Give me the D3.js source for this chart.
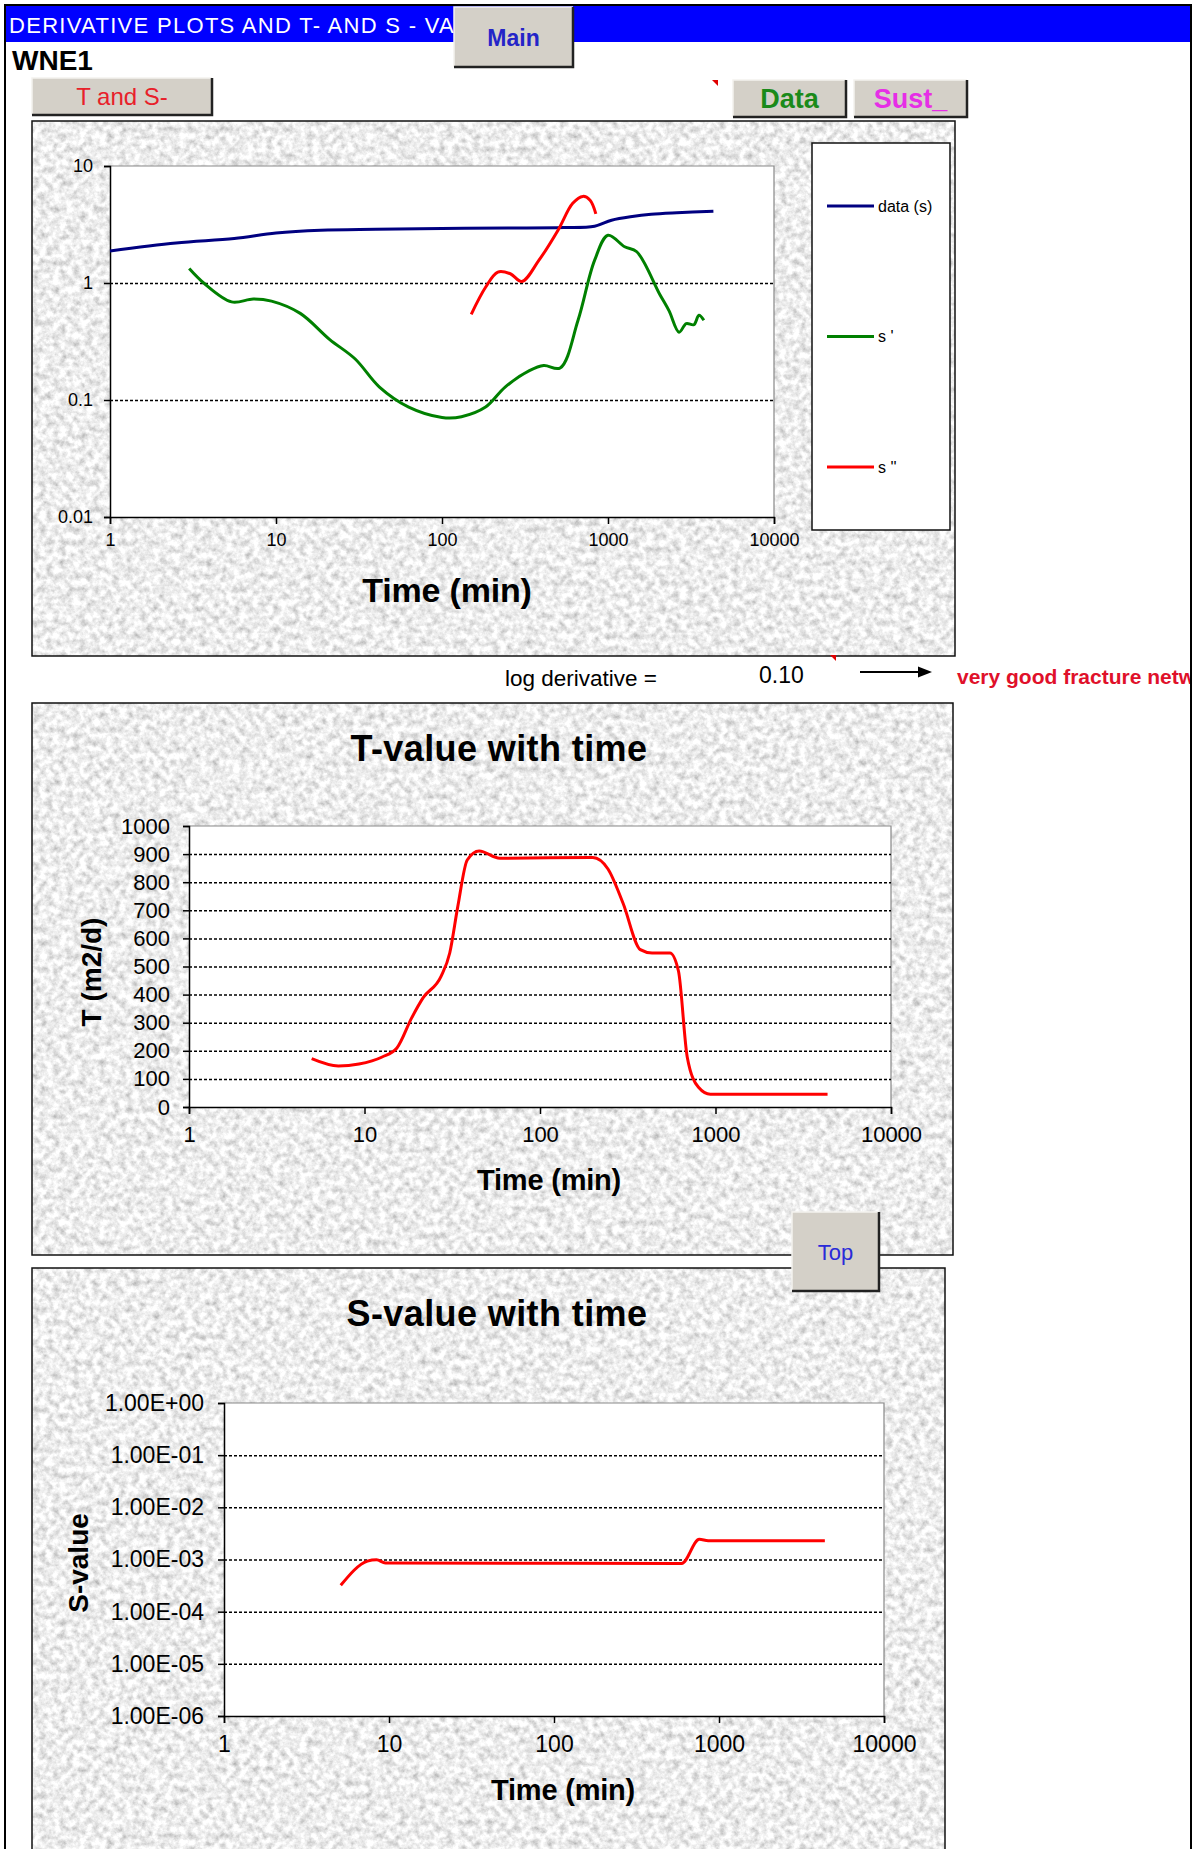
<!DOCTYPE html>
<meta charset="utf-8">
<style>
body { margin: 0; background: #fff; }
svg text { font-family: "Liberation Sans", Arial, sans-serif; }
.grid line { stroke: #000; stroke-width: 1.5; stroke-dasharray: 3,2; }
.grid path { display: none; }
.axis path, .axis line { stroke: #000; stroke-width: 1.5; fill: none; }
</style>
<script src="https://d3js.org/d3.v7.min.js"></script>
<body>
<div id="sheet"></div>
<script>
// ---------- values ----------
var timeTicks = [1, 10, 100, 1000, 10000];
var timeTickLabels = ["1", "10", "100", "1000", "10000"];

// derivative plot
var derivTicks = [0.01, 0.1, 1, 10];
var derivTickLabels = ["0.01", "0.1", "1", "10"];
var derivGrid = [0.1, 1];

var sTime  = [1, 2.5, 5.6, 10, 18.6, 40, 100, 250, 537, 830, 1050, 1400, 1820, 2600, 4315];
var sValue = [1.88, 2.2, 2.4, 2.68, 2.83, 2.88, 2.92, 2.95, 2.98, 3.06, 3.44, 3.7, 3.86, 3.98, 4.11];

var s1Time  = [3.0, 3.7, 5.4, 7.3, 9.4, 14, 21, 30, 42, 63, 100, 131, 183, 240, 336, 410, 515, 660, 830, 1000, 1260, 1490, 2040, 2330, 2680, 2960, 3290, 3530, 3780];
var s1Value = [1.33, 0.99, 0.69, 0.73, 0.70, 0.55, 0.33, 0.224, 0.129, 0.087, 0.071, 0.072, 0.087, 0.129, 0.178, 0.197, 0.188, 0.48, 1.56, 2.56, 2.04, 1.85, 0.81, 0.58, 0.38, 0.45, 0.44, 0.53, 0.48];

var s2Time  = [150, 183, 217, 258, 303, 383, 500, 613, 705, 780, 845];
var s2Value = [0.54, 0.92, 1.24, 1.2, 1.03, 1.56, 2.83, 4.8, 5.5, 5.1, 3.9];

var legendNames = ["data (s)", "s '", "s ''"];
var legendColors = ["#000080", "#008000", "#ff0000"];

// T-value plot
var tTicks = [0, 100, 200, 300, 400, 500, 600, 700, 800, 900, 1000];
var tGrid = [100, 200, 300, 400, 500, 600, 700, 800, 900];
var tTime  = [5.0, 7.1, 9.3, 12.6, 15.3, 18.6, 21.6, 27.3, 30.6, 34, 38.5, 45, 59, 200, 244, 297, 373, 435, 550, 615, 690, 800, 935, 4350];
var tValue = [172, 146, 153, 178, 210, 318, 389, 465, 548, 713, 879, 911, 885, 888, 847, 726, 560, 548, 548, 484, 178, 70, 45, 45];

// S-value plot
var svTicks = [1e-6, 1e-5, 1e-4, 1e-3, 1e-2, 1e-1, 1];
var svTickLabels = ["1.00E-06", "1.00E-05", "1.00E-04", "1.00E-03", "1.00E-02", "1.00E-01", "1.00E+00"];
var svGrid = [1e-5, 1e-4, 1e-3, 1e-2, 1e-1];
var svTime  = [5.1, 7.4, 8.4, 9.5, 594, 760, 860, 4380];
var svValue = [3.2e-4, 9.3e-4, 9.9e-4, 8.6e-4, 8.4e-4, 2.44e-3, 2.3e-3, 2.3e-3];

// ---------- sheet ----------
var svg = d3.select("#sheet")
  .append("svg")
    .attr("width", 1197)
    .attr("height", 1849);

// granite texture of the chart areas
var defs = svg.append("defs");
var granite = defs.append("filter")
    .attr("id", "granite")
    .attr("x", 0).attr("y", 0).attr("width", 1).attr("height", 1);
granite.append("feTurbulence")
    .attr("type", "fractalNoise")
    .attr("baseFrequency", 0.15)
    .attr("numOctaves", 4)
    .attr("seed", 7);
granite.append("feColorMatrix")
    .attr("type", "matrix")
    .attr("values", "0.9 0 0 0 0.4  0.9 0 0 0 0.4  0.9 0 0 0 0.4  0 0 0 0 1");

defs.append("clipPath").attr("id", "sheetClip")
  .append("rect").attr("x", 0).attr("y", 0).attr("width", 1190).attr("height", 1849);

// title bar (the rest of the title sits under the Main button)
svg.append("rect").attr("x", 6).attr("y", 6).attr("width", 1184).attr("height", 36).attr("fill", "#0000ff");
svg.append("text")
    .attr("x", 9).attr("y", 33)
    .attr("fill", "#fff")
    .attr("font-size", 22)
    .attr("letter-spacing", 1.3)
    .text("DERIVATIVE PLOTS AND T- AND S - VA");

svg.append("text")
    .attr("x", 12).attr("y", 70)
    .attr("font-size", 28).attr("font-weight", "bold")
    .text("WNE1");

function button(x, y, w, h, label, color, size, bold, ty) {
  var b = svg.append("g");
  b.append("rect").attr("x", x).attr("y", y).attr("width", w).attr("height", h).attr("fill", "#d4d0c8");
  b.append("path")
      .attr("d", "M" + x + "," + (y + h) + "V" + y + "H" + (x + w))
      .attr("stroke", "#f4f2ee").attr("stroke-width", 1.5).attr("fill", "none");
  b.append("path")
      .attr("d", "M" + (x + w) + "," + y + "V" + (y + h) + "H" + x)
      .attr("stroke", "#222").attr("stroke-width", 2.5).attr("fill", "none");
  b.append("text")
      .attr("x", x + w / 2).attr("y", ty)
      .attr("text-anchor", "middle")
      .attr("fill", color)
      .attr("font-size", size)
      .attr("font-weight", bold ? "bold" : "normal")
      .text(label);
}

function commentMark(x, y) {
  svg.append("path")
      .attr("d", "M" + x + "," + y + "h6v6z")
      .attr("fill", "#e00000");
}

function graniteBox(x, y, w, h) {
  svg.append("rect").attr("x", x).attr("y", y).attr("width", w).attr("height", h)
      .attr("fill", "#d8d8d8").attr("filter", "url(#granite)");
  svg.append("rect").attr("x", x).attr("y", y).attr("width", w).attr("height", h)
      .attr("fill", "none").attr("stroke", "#111").attr("stroke-width", 1.5);
}

// page frame
svg.append("path")
    .attr("d", "M5,1849V5H1191V1849")
    .attr("fill", "none").attr("stroke", "#000").attr("stroke-width", 2);

// ---------- chart areas ----------
graniteBox(32, 121, 923, 535);
graniteBox(32, 703, 921, 552);
graniteBox(32, 1268, 913, 600);

// a log-x / any-y plot with Excel-like frame
function plot(left, top, w, h, y, opt) {
  var x = d3.scaleLog().domain([1, 10000]).range([0, w]);
  var g = svg.append("g").attr("transform", "translate(" + left + "," + top + ")");

  g.append("rect").attr("width", w).attr("height", h).attr("fill", "#fff");
  g.append("path").attr("d", "M0,0H" + w + "V" + h)
      .attr("stroke", "#888").attr("stroke-width", 1.2).attr("fill", "none");

  g.append("g").attr("class", "grid")
      .call(d3.axisLeft(y).tickValues(opt.grid).tickSize(-w).tickFormat(""));

  var yAxis = g.append("g").attr("class", "axis")
      .call(d3.axisLeft(y).tickValues(opt.yTicks)
        .tickFormat(function(d, i) { return opt.yLabels[i]; })
        .tickSizeOuter(0).tickSize(6).tickPadding(opt.yPad));
  yAxis.selectAll("text").attr("font-size", opt.tickSize).attr("font-family", "Liberation Sans, Arial, sans-serif").attr("fill", "#000");

  var xAxis = g.append("g").attr("class", "axis")
      .attr("transform", "translate(0," + h + ")")
      .call(d3.axisBottom(x).tickValues(timeTicks)
        .tickFormat(function(d, i) { return timeTickLabels[i]; })
        .tickSizeOuter(0).tickSize(7).tickPadding(opt.xPad));
  xAxis.selectAll("text").attr("font-size", opt.tickSize).attr("font-family", "Liberation Sans, Arial, sans-serif").attr("fill", "#000");

  return {g: g, x: x, y: y};
}

function drawLine(p, times, values, color, curve) {
  var pts = times.map(function(t, i) { return [t, values[i]]; });
  p.g.append("path")
      .datum(pts)
      .attr("fill", "none")
      .attr("stroke", color)
      .attr("stroke-width", 3)
      .attr("stroke-linejoin", "round")
      .attr("d", d3.line()
        .curve(curve)
        .x(function(d) { return p.x(d[0]); })
        .y(function(d) { return p.y(d[1]); }));
}

// chart 1: derivative plot
var p1 = plot(110, 166, 664, 351,
  d3.scaleLog().domain([0.01, 10]).range([351, 0]),
  {grid: derivGrid, yTicks: derivTicks, yLabels: derivTickLabels, tickSize: 18, yPad: 11, xPad: 9});
drawLine(p1, sTime, sValue, legendColors[0], d3.curveCatmullRom);
drawLine(p1, s1Time, s1Value, legendColors[1], d3.curveCatmullRom);
drawLine(p1, s2Time, s2Value, legendColors[2], d3.curveCatmullRom);

svg.append("text")
    .attr("x", 447).attr("y", 602)
    .attr("text-anchor", "middle")
    .attr("font-size", 34).attr("font-weight", "bold")
    .attr("letter-spacing", -0.2)
    .text("Time (min)");

// legend
svg.append("rect").attr("x", 812).attr("y", 143).attr("width", 138).attr("height", 387)
    .attr("fill", "#fff").attr("stroke", "#111").attr("stroke-width", 1.5);
var legend = svg.append("g").selectAll("g")
    .data(legendNames)
    .enter()
    .append("g")
      .attr("transform", function(d, i) { return "translate(827," + (206 + i * 130.5) + ")"; });
legend.append("line")
    .attr("x1", 0).attr("x2", 47)
    .attr("stroke", function(d, i) { return legendColors[i]; })
    .attr("stroke-width", 3);
legend.append("text")
    .attr("x", 51).attr("dy", "0.35em")
    .attr("font-size", 16)
    .text(function(d) { return d; });

// log derivative line
svg.append("text").attr("x", 505).attr("y", 686).attr("font-size", 22.5).text("log derivative =");
svg.append("text").attr("x", 759).attr("y", 683).attr("font-size", 23).text("0.10");
svg.append("line").attr("x1", 860).attr("x2", 920).attr("y1", 672).attr("y2", 672)
    .attr("stroke", "#000").attr("stroke-width", 2);
svg.append("path").attr("d", "M932,672L918,666.5V677.5Z").attr("fill", "#000");
svg.append("g").attr("clip-path", "url(#sheetClip)")
  .append("text")
    .attr("x", 957).attr("y", 684)
    .attr("fill", "#e0102a")
    .attr("font-size", 21).attr("font-weight", "bold")
    .text("very good fracture network");
commentMark(830, 655);

// chart 2: T-value with time
svg.append("text")
    .attr("x", 499).attr("y", 761)
    .attr("text-anchor", "middle")
    .attr("font-size", 36).attr("font-weight", "bold")
    .attr("letter-spacing", 0.4)
    .text("T-value with  time");
var p2 = plot(189, 826, 702, 281,
  d3.scaleLinear().domain([0, 1000]).range([281, 0]),
  {grid: tGrid, yTicks: tTicks, yLabels: tTicks.map(String), tickSize: 22, yPad: 13, xPad: 12});
drawLine(p2, tTime, tValue, "#ff0000", d3.curveMonotoneX);
svg.append("text")
    .attr("x", 549).attr("y", 1190)
    .attr("text-anchor", "middle")
    .attr("font-size", 29).attr("font-weight", "bold")
    .attr("letter-spacing", -0.2)
    .text("Time (min)");
svg.append("text")
    .attr("transform", "translate(101,972) rotate(-90)")
    .attr("text-anchor", "middle")
    .attr("font-size", 28).attr("font-weight", "bold")
    .text("T (m2/d)");

// chart 3: S-value with time
svg.append("text")
    .attr("x", 497).attr("y", 1326)
    .attr("text-anchor", "middle")
    .attr("font-size", 36).attr("font-weight", "bold")
    .attr("letter-spacing", 0.4)
    .text("S-value with  time");
var p3 = plot(224, 1403, 660, 313,
  d3.scaleLog().domain([1e-6, 1]).range([313, 0]),
  {grid: svGrid, yTicks: svTicks, yLabels: svTickLabels, tickSize: 23, yPad: 14, xPad: 13});
drawLine(p3, svTime, svValue, "#ff0000", d3.curveMonotoneX);
svg.append("text")
    .attr("x", 563).attr("y", 1800)
    .attr("text-anchor", "middle")
    .attr("font-size", 29).attr("font-weight", "bold")
    .attr("letter-spacing", -0.2)
    .text("Time (min)");
svg.append("text")
    .attr("transform", "translate(88,1563) rotate(-90)")
    .attr("text-anchor", "middle")
    .attr("font-size", 28).attr("font-weight", "bold")
    .text("S-value");

// ---------- sheet buttons ----------
button(454, 7, 119, 60, "Main", "#2424c8", 23, true, 46);
button(32, 78, 180, 37, "T and S-", "#e8202a", 24, false, 105);
button(733, 80, 113, 37, "Data", "#1a8a1a", 27, true, 108);
button(854, 80, 113, 37, "Sust_", "#e62ee6", 27, true, 108);
button(792, 1212, 87, 79, "Top", "#2a2ad8", 22, false, 1260);
commentMark(712, 80);
</script>
